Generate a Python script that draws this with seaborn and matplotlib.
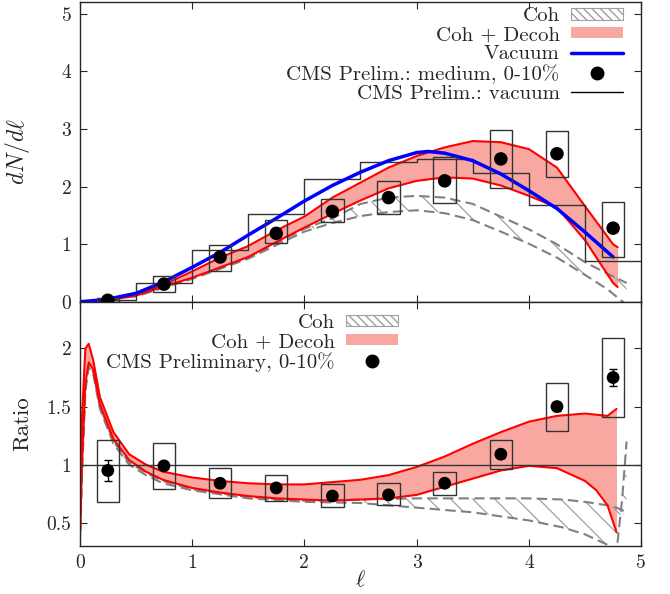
import numpy as np
import matplotlib
matplotlib.use('Agg')
import matplotlib.pyplot as plt
import seaborn as sns
from matplotlib.patches import Patch
from matplotlib.lines import Line2D

# ---- values ----
bin_edges = [0, 0.5, 1.0, 1.5, 2.0, 2.5, 3.0, 3.5, 4.0, 4.5, 5.0]
bin_centers = [0.25, 0.75, 1.25, 1.75, 2.25, 2.75, 3.25, 3.75, 4.25, 4.75]

# CMS prelim. vacuum histogram
cms_vac = [0.03, 0.33, 0.90, 1.52, 2.14, 2.43, 2.48, 2.24, 1.69, 0.71]

# CMS prelim. medium 0-10% (points + systematic boxes)
cms_med = [0.03, 0.31, 0.78, 1.19, 1.57, 1.81, 2.10, 2.48, 2.57, 1.28]
cms_med_lo = [0.00, 0.17, 0.53, 1.02, 1.38, 1.53, 1.71, 1.97, 2.17, 0.78]
cms_med_hi = [0.07, 0.45, 0.98, 1.43, 1.79, 2.10, 2.52, 2.98, 2.97, 1.74]

# vacuum calculation
x_vac = [0, 0.25, 0.5, 0.75, 1.0, 1.25, 1.5, 1.75, 2.0, 2.25, 2.5, 2.75, 3.0, 3.1,
         3.25, 3.5, 3.75, 4.0, 4.25, 4.5, 4.75]
vacuum = [0, 0.05, 0.15, 0.35, 0.60, 0.86, 1.16, 1.45, 1.75, 2.02, 2.25, 2.45, 2.59, 2.61,
          2.58, 2.45, 2.22, 1.93, 1.62, 1.21, 0.78]

# Coh + Decoh band
x_dec = [0, 0.25, 0.5, 0.75, 1.0, 1.25, 1.5, 1.75, 2.0, 2.25, 2.5, 2.75, 3.0, 3.25,
         3.5, 3.75, 4.0, 4.25, 4.5, 4.75, 4.79]
dec_hi = [0, 0.04, 0.12, 0.30, 0.53, 0.77, 0.97, 1.24, 1.48, 1.81, 2.07, 2.33, 2.53, 2.68,
          2.79, 2.77, 2.65, 2.33, 1.66, 1.00, 0.95]
dec_lo = [0, 0.03, 0.11, 0.27, 0.42, 0.60, 0.78, 1.04, 1.29, 1.53, 1.76, 1.97, 2.10, 2.16,
          2.14, 2.02, 1.84, 1.64, 1.07, 0.33, 0.26]

# Coh band
x_coh = [0, 0.5, 1.0, 1.5, 2.0, 2.25, 2.5, 2.75, 3.0, 3.25, 3.5, 3.75, 4.0, 4.25, 4.5, 4.7, 4.87]
coh_hi = [0, 0.10, 0.41, 0.77, 1.27, 1.45, 1.70, 1.81, 1.84, 1.81, 1.70, 1.48, 1.26, 1.00, 0.69, 0.49, 0.33]
coh_lo = [0, 0.10, 0.40, 0.75, 1.22, 1.37, 1.49, 1.56, 1.59, 1.54, 1.42, 1.22, 1.01, 0.77, 0.47, 0.22, -0.05]

# ratio panel: CMS preliminary 0-10%
ratio = [0.95, 0.99, 0.84, 0.80, 0.73, 0.74, 0.84, 1.09, 1.50, 1.75]
ratio_stat = [0.09, 0.03, 0.02, 0.02, 0.02, 0.02, 0.02, 0.03, 0.04, 0.075]
ratio_sys_lo = [0.68, 0.79, 0.71, 0.69, 0.64, 0.65, 0.74, 0.96, 1.29, 1.41]
ratio_sys_hi = [1.21, 1.19, 0.97, 0.91, 0.83, 0.84, 0.94, 1.21, 1.70, 2.09]

# ratio: Coh + Decoh band
xr_dec = [0, 0.02, 0.05, 0.08, 0.12, 0.18, 0.3, 0.44, 0.59, 0.74, 1.0, 1.25, 1.5, 1.75, 2.0,
          2.25, 2.5, 2.75, 3.0, 3.25, 3.5, 3.75, 4.0, 4.25, 4.5, 4.6, 4.7, 4.78]
rdec_hi = [0.3, 1.4, 2.0, 2.04, 1.9, 1.58, 1.28, 1.09, 1.0, 0.94, 0.89, 0.86, 0.84, 0.83, 0.83,
           0.85, 0.87, 0.91, 0.98, 1.07, 1.18, 1.28, 1.37, 1.42, 1.44, 1.43, 1.42, 1.48]
rdec_lo = [0.3, 1.0, 1.7, 1.88, 1.82, 1.52, 1.22, 1.04, 0.94, 0.87, 0.80, 0.76, 0.73, 0.71, 0.70,
           0.69, 0.70, 0.71, 0.74, 0.81, 0.88, 0.95, 0.99, 0.97, 0.86, 0.78, 0.65, 0.42]

# ratio: Coh band
xr_coh = [0, 0.02, 0.05, 0.08, 0.12, 0.18, 0.3, 0.44, 0.59, 0.74, 1.0, 1.5, 2.0, 2.5, 3.0,
          3.5, 4.0, 4.3, 4.5, 4.7, 4.78, 4.83, 4.87]
rcoh_hi = [0.3, 0.95, 1.66, 1.86, 1.80, 1.50, 1.20, 1.02, 0.93, 0.86, 0.79, 0.72, 0.69, 0.70, 0.71,
           0.71, 0.71, 0.70, 0.68, 0.65, 0.63, 0.61, 0.58]
rcoh_lo = [0.3, 0.92, 1.63, 1.84, 1.78, 1.48, 1.18, 1.00, 0.91, 0.84, 0.78, 0.71, 0.68, 0.67, 0.63,
           0.59, 0.52, 0.46, 0.40, 0.31, 0.25, 0.70, 1.20]

x_ticks = [0, 1, 2, 3, 4, 5]
top_yticks = [0, 1, 2, 3, 4, 5]
ratio_ticks = [0.5, 1, 1.5, 2]
ratio_ticklabels = ['0.5', '1', '1.5', '2']

# ---- style ----
sns.set_style('ticks')
plt.rcParams['font.family'] = ['cmr10', 'DejaVu Serif']
plt.rcParams['mathtext.fontset'] = 'cm'
plt.rcParams['axes.formatter.use_mathtext'] = True
plt.rcParams['axes.unicode_minus'] = False

PINK = '#f9a8a1'
RED = '#ff0000'
BLUE = '#0000ff'
GRAY = '#808080'
HATCH = '#a0a0a0'
EDGE = '#333333'

fig, (ax1, ax2) = plt.subplots(2, 1, figsize=(6.7, 5.94), dpi=100, sharex=True,
                               gridspec_kw={'height_ratios': [300, 244]})
fig.subplots_adjust(left=0.119, right=0.957, top=0.9966, bottom=0.0808, hspace=0)


def hatch_band(ax, poly, spacing_px):
    # 45 degree hatching clipped to the band polygon
    bb = ax.get_position()
    w = bb.width * fig.get_figwidth() * fig.dpi
    h = bb.height * fig.get_figheight() * fig.dpi
    r = w / h
    step = spacing_px / w
    path = poly.get_paths()[0]
    for c in np.arange(-1.0 / r, 1.0 + step, step):
        ln, = ax.plot([c, c + 1.0 / r], [1, 0], transform=ax.transAxes, color=HATCH, lw=0.9)
        ln.set_clip_path(path, ax.transData)


# ---- top panel ----
coh_poly = ax1.fill_between(x_coh, coh_lo, coh_hi, facecolor='none', edgecolor='none')
hatch_band(ax1, coh_poly, 28)
ax1.fill_between(x_dec, dec_lo, dec_hi, color=PINK, lw=0)
for yy in (coh_hi, coh_lo):
    sns.lineplot(x=x_coh, y=yy, color=GRAY, lw=1.5, linestyle=(0, (5, 2.5)), estimator=None, ax=ax1)
for yy in (dec_hi, dec_lo):
    sns.lineplot(x=x_dec, y=yy, color=RED, lw=1.5, estimator=None, ax=ax1)
sns.histplot(x=bin_centers, weights=cms_vac, bins=bin_edges, element='step', fill=False,
             color=EDGE, linewidth=1, ax=ax1)
sns.lineplot(x=x_vac, y=vacuum, color=BLUE, lw=2.5, estimator=None, ax=ax1)
ax1.bar(bin_centers, np.subtract(cms_med_hi, cms_med_lo), bottom=cms_med_lo, width=0.2,
        fill=False, edgecolor=EDGE, linewidth=1, zorder=4)
sns.scatterplot(x=bin_centers, y=cms_med, color='k', s=95, edgecolor='none', zorder=5, ax=ax1)

ax1.set_xlim(0, 5)
ax1.set_ylim(0, 5.2)
ax1.set_yticks(top_yticks)
ax1.set_yticklabels([str(t) for t in top_yticks])
ax1.set_ylabel(r'$dN/d\ell$', fontsize=17)
ax1.yaxis.set_label_coords(-0.085, 0.5)

h_top = [Patch(facecolor='white', edgecolor=HATCH, hatch='\\\\\\\\', lw=0.8),
         Patch(facecolor=PINK, edgecolor='none'),
         Line2D([], [], color=BLUE, lw=2.5),
         Line2D([], [], color='k', marker='o', ms=9, ls='none'),
         Line2D([], [], color='k', lw=1)]
l_top = ['Coh', 'Coh + Decoh', 'Vacuum', 'CMS Prelim.: medium, 0-10%', 'CMS Prelim.: vacuum']
ax1.legend(h_top, l_top, loc='upper right', bbox_to_anchor=(0.968, 0.982), frameon=False,
           markerfirst=False, fontsize=15, labelspacing=0.05, handlelength=2.5,
           handleheight=0.45, handletextpad=0.55, borderpad=0, borderaxespad=0)

# ---- ratio panel ----
rcoh_poly = ax2.fill_between(xr_coh, rcoh_lo, rcoh_hi, facecolor='none', edgecolor='none')
hatch_band(ax2, rcoh_poly, 22)
ax2.fill_between(xr_dec, rdec_lo, rdec_hi, color=PINK, lw=0)
for yy in (rcoh_hi, rcoh_lo):
    sns.lineplot(x=xr_coh, y=yy, color=GRAY, lw=1.5, linestyle=(0, (5, 2.5)), estimator=None, ax=ax2)
for yy in (rdec_hi, rdec_lo):
    sns.lineplot(x=xr_dec, y=yy, color=RED, lw=1.5, estimator=None, ax=ax2)
ax2.axhline(1, color=EDGE, lw=1)
ax2.bar(bin_centers, np.subtract(ratio_sys_hi, ratio_sys_lo), bottom=ratio_sys_lo, width=0.2,
        fill=False, edgecolor=EDGE, linewidth=1, zorder=4)
ax2.errorbar(bin_centers, ratio, yerr=ratio_stat, fmt='none', ecolor='k', elinewidth=1,
             capsize=3, zorder=5)
sns.scatterplot(x=bin_centers, y=ratio, color='k', s=85, edgecolor='none', zorder=6, ax=ax2)

ax2.set_xlim(0, 5)
ax2.set_ylim(0.3, 2.4)
ax2.set_yticks(ratio_ticks)
ax2.set_yticklabels(ratio_ticklabels)
ax2.set_xticks(x_ticks)
ax2.set_xticklabels([str(t) for t in x_ticks])
ax2.set_ylabel('Ratio', fontsize=16.5)
ax2.yaxis.set_label_coords(-0.085, 0.5)
ax2.set_xlabel(r'$\ell$', fontsize=16, labelpad=-2)

h_bot = [Patch(facecolor='white', edgecolor=HATCH, hatch='\\\\\\\\', lw=0.8),
         Patch(facecolor=PINK, edgecolor='none'),
         Line2D([], [], color='k', marker='o', ms=9, ls='none')]
l_bot = ['Coh', 'Coh + Decoh', 'CMS Preliminary, 0-10%']
ax2.legend(h_bot, l_bot, loc='upper right', bbox_to_anchor=(0.567, 0.95), frameon=False,
           markerfirst=False, fontsize=15, labelspacing=0.05, handlelength=2.5,
           handleheight=0.45, handletextpad=0.55, borderpad=0, borderaxespad=0)

for ax in (ax1, ax2):
    ax.tick_params(direction='in', top=True, right=True, length=5, width=0.8,
                   labelsize=14, pad=6)
    for s in ax.spines.values():
        s.set_linewidth(1)
ax1.tick_params(labelbottom=False)

fig.savefig('out.png', dpi=100)
